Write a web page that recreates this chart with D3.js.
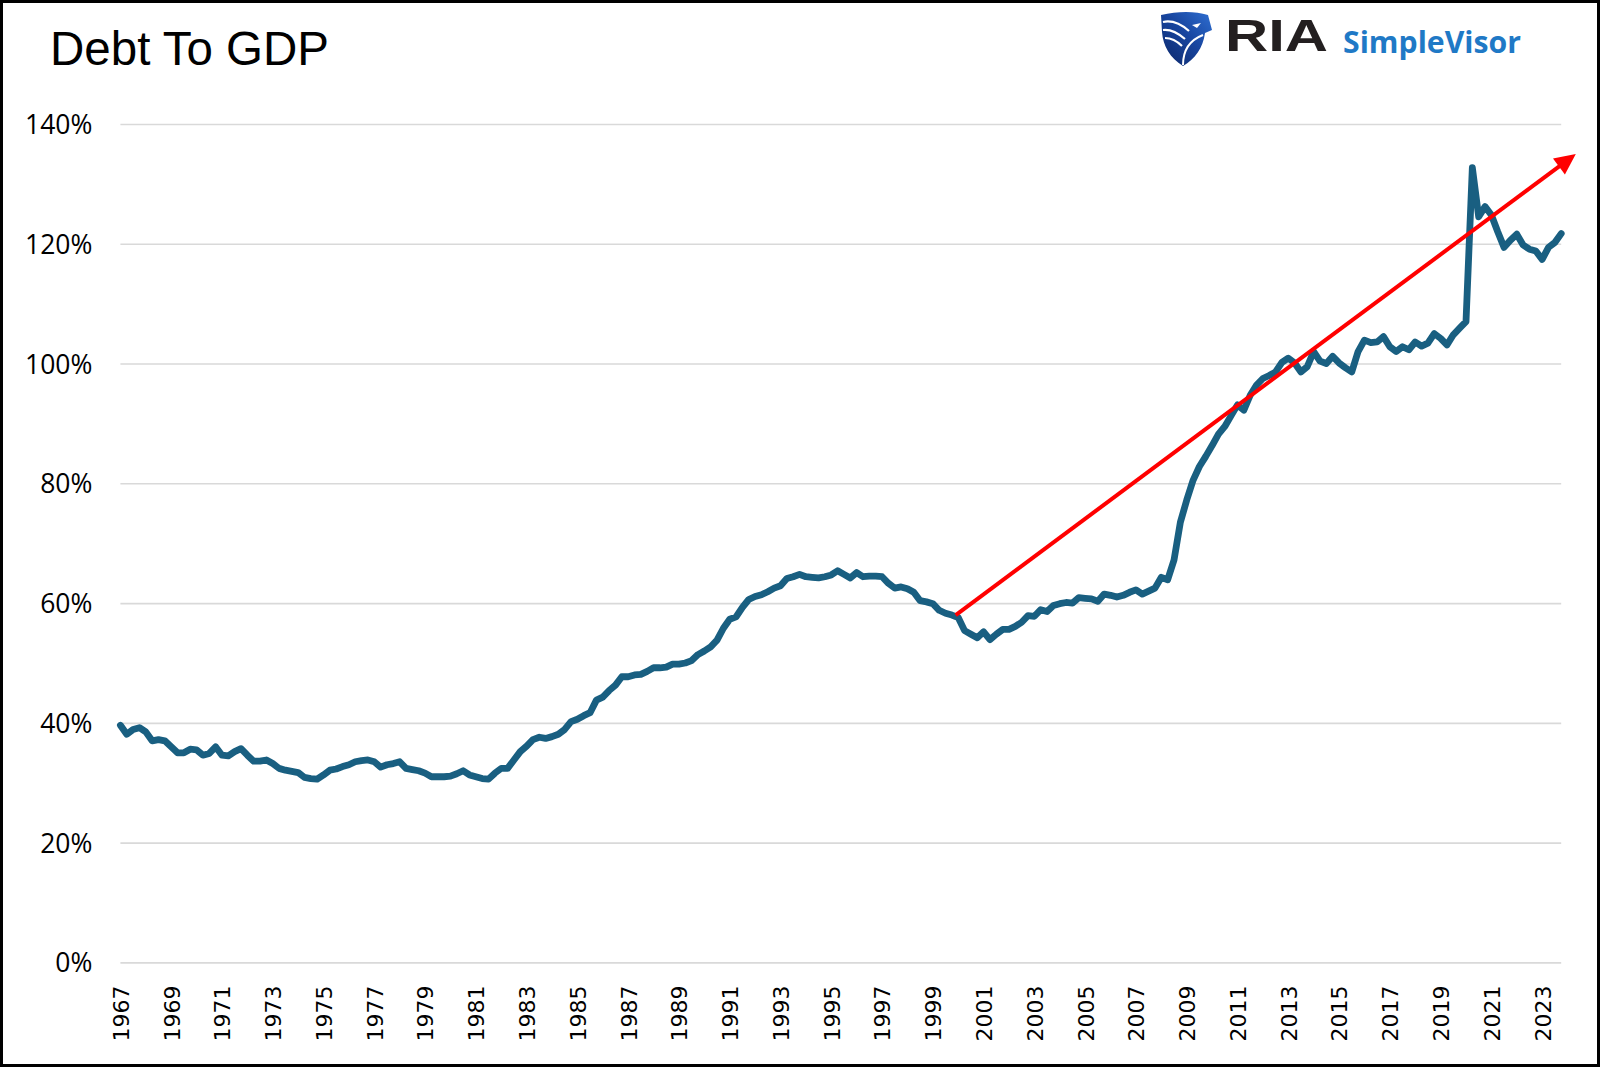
<!DOCTYPE html>
<html><head><meta charset="utf-8">
<script src="https://cdn.jsdelivr.net/npm/d3@7"></script>
<style>html,body{margin:0;padding:0;background:#fff;overflow:hidden;} svg{display:block;}</style>
</head><body>
<script>
// ---------------- DATA ----------------
const titleText = "Debt To GDP";
const firstYear = 1967;
// Quarterly federal debt to GDP (%), 1967Q1 .. 2023Q4
const debtToGdp = [
  39.6, 38.1, 38.9, 39.2, 38.5, 37.0, 37.2, 37.0, 36.0, 35.0,
  35.0, 35.6, 35.5, 34.6, 34.9, 36.0, 34.6, 34.5, 35.2, 35.7,
  34.6, 33.6, 33.6, 33.8, 33.2, 32.4, 32.1, 31.9, 31.7, 30.9,
  30.7, 30.6, 31.3, 32.1, 32.3, 32.7, 33.0, 33.5, 33.7, 33.8,
  33.5, 32.6, 33.0, 33.2, 33.5, 32.4, 32.2, 32.0, 31.6, 31.0,
  31.0, 31.0, 31.1, 31.5, 32.0, 31.3, 31.0, 30.7, 30.6, 31.6,
  32.4, 32.4, 33.8, 35.2, 36.1, 37.2, 37.6, 37.4, 37.7, 38.1,
  38.9, 40.2, 40.6, 41.2, 41.7, 43.8, 44.3, 45.4, 46.3, 47.7,
  47.7, 48.0, 48.1, 48.6, 49.2, 49.2, 49.3, 49.8, 49.8, 50.0,
  50.4, 51.4, 52.0, 52.7, 53.8, 55.8, 57.3, 57.7, 59.3, 60.6,
  61.1, 61.4, 61.9, 62.5, 62.9, 64.1, 64.4, 64.8, 64.4, 64.3,
  64.2, 64.4, 64.7, 65.4, 64.8, 64.2, 65.1, 64.4, 64.5, 64.5,
  64.4, 63.3, 62.5, 62.7, 62.4, 61.8, 60.4, 60.2, 59.9, 58.8,
  58.3, 58.0, 57.6, 55.4, 54.8, 54.2, 55.2, 53.9, 54.8, 55.6,
  55.6, 56.1, 56.8, 57.9, 57.8, 58.9, 58.6, 59.6, 59.9, 60.1,
  60.0, 60.9, 60.8, 60.7, 60.3, 61.5, 61.3, 61.0, 61.3, 61.8,
  62.2, 61.5, 62.0, 62.5, 64.3, 63.9, 67.2, 73.5, 77.2, 80.5,
  82.8, 84.5, 86.3, 88.2, 89.5, 91.3, 93.1, 92.2, 94.7, 96.4,
  97.5, 98.0, 98.6, 100.2, 100.9, 100.1, 98.6, 99.5, 102.0, 100.4,
  100.0, 101.2, 100.1, 99.3, 98.6, 102.0, 103.9, 103.5, 103.6, 104.5,
  102.8, 102.0, 102.8, 102.3, 103.6, 102.9, 103.4, 105.0, 104.2, 103.1,
  104.8, 105.9, 107.0, 132.7, 124.5, 126.2, 124.8, 122.0, 119.4, 120.6,
  121.6, 119.8, 119.1, 118.8, 117.4, 119.4, 120.2, 121.7
];
const categories = debtToGdp.map((d, i) => `${firstYear + Math.floor(i / 4)}Q${(i % 4) + 1}`);
const xTickLabels = ["1967","1969","1971","1973","1975","1977","1979","1981","1983","1985",
  "1987","1989","1991","1993","1995","1997","1999","2001","2003","2005",
  "2007","2009","2011","2013","2015","2017","2019","2021","2023"];
const yTickValues = [0, 20, 40, 60, 80, 100, 120, 140];
// Red trend arrow (category index, value)
const trendStart = { index: 131.6, value: 58.0 };
const trendEnd = { index: 229.3, value: 135.0 };
const logoWord = "RIA";
const logoSub = "SimpleVisor";

// ---------------- LAYOUT ----------------
const W = 1600, H = 1067;
const plot = { left: 120.4, right: 1561.2, top: 124, bottom: 962.4 };

const svg = d3.select("body").append("svg").attr("width", W).attr("height", H);
svg.append("rect").attr("x", 0).attr("y", 0).attr("width", W).attr("height", H).attr("fill", "#fff");

const x = d3.scaleLinear().domain([0, categories.length - 1]).range([plot.left, plot.right]);
const y = d3.scaleLinear().domain([0, 140]).range([plot.bottom, plot.top]);

// Y axis with gridlines
const yAxis = d3.axisLeft(y).tickValues(yTickValues).tickFormat(d => d + "%")
  .tickSize(-(plot.right - plot.left)).tickPadding(28);
const gy = svg.append("g").attr("transform", `translate(${plot.left},0)`).call(yAxis);
gy.select(".domain").remove();
gy.selectAll(".tick line").attr("stroke", "#d9d9d9").attr("stroke-width", 1.6);
gy.selectAll(".tick text").attr("fill", "#000").style("font-family", "'Open Sans', sans-serif")
  .style("font-size", "26.5px").attr("dy", "0.36em");

// X axis labels
const tickIdx = xTickLabels.map(l => categories.indexOf(l + "Q1"));
const xAxis = d3.axisBottom(x).tickValues(tickIdx)
  .tickFormat(i => categories[i].slice(0, 4)).tickSize(0);
const gx = svg.append("g").attr("transform", `translate(0,${plot.bottom})`).call(xAxis);
gx.select(".domain").remove();
gx.selectAll(".tick line").remove();
gx.selectAll(".tick text").attr("fill", "#000")
  .style("font-family", "'DejaVu Sans', sans-serif").style("font-size", "22px")
  .attr("transform", "rotate(-90)").attr("x", -23).attr("y", 0).attr("dy", "0.36em")
  .attr("text-anchor", "end");

// Data line
const line = d3.line().x((d, i) => x(i)).y(d => y(d));
svg.append("path").datum(debtToGdp).attr("d", line)
  .attr("fill", "none").attr("stroke", "#195f81").attr("stroke-width", 6.8)
  .attr("stroke-linejoin", "round").attr("stroke-linecap", "round");

// Trend arrow
const x0 = x(trendStart.index), y0 = y(trendStart.value);
const x1 = x(trendEnd.index), y1 = y(trendEnd.value);
const len = Math.hypot(x1 - x0, y1 - y0);
const ux = (x1 - x0) / len, uy = (y1 - y0) / len;
const headLen = 21, headHalf = 10;
const bx = x1 - ux * headLen, by = y1 - uy * headLen;
svg.append("line").attr("x1", x0).attr("y1", y0).attr("x2", bx + ux * 2).attr("y2", by + uy * 2)
  .attr("stroke", "#ff0000").attr("stroke-width", 4);
svg.append("path")
  .attr("d", `M${x1},${y1}L${bx - uy * headHalf},${by + ux * headHalf}L${bx + uy * headHalf},${by - ux * headHalf}Z`)
  .attr("fill", "#ff0000");

// Title
svg.append("text").attr("x", 50).attr("y", 65).text(titleText)
  .style("font-family", "'Liberation Sans', Arial, sans-serif").style("font-size", "47.5px").attr("fill", "#000");

// Logo
const defs = svg.append("defs");
const grad = defs.append("linearGradient").attr("id", "shieldGrad")
  .attr("x1", "0").attr("y1", "1").attr("x2", "1").attr("y2", "0");
grad.append("stop").attr("offset", "0").attr("stop-color", "#0b2566");
grad.append("stop").attr("offset", "0.55").attr("stop-color", "#1846a0");
grad.append("stop").attr("offset", "1").attr("stop-color", "#2f6fd2");
const logo = svg.append("g");
logo.append("path")
  .attr("d", "M1161,15 C1178,11 1195,11 1208,15 L1212,30 L1205,33 C1203,48 1195,59 1183,66 C1170,58 1163,46 1162,32 Z")
  .attr("fill", "url(#shieldGrad)");
logo.append("path").attr("d", "M1163,22 C1172,20 1181,24 1189,31").attr("stroke", "#fff").attr("stroke-width", 2.2).attr("fill", "none");
logo.append("path").attr("d", "M1163,30 C1171,29 1178,33 1185,39").attr("stroke", "#fff").attr("stroke-width", 2.2).attr("fill", "none");
logo.append("path").attr("d", "M1165,38 C1172,38 1177,41 1182,46").attr("stroke", "#fff").attr("stroke-width", 2.2).attr("fill", "none");
logo.append("path").attr("d", "M1183,65 C1183,50 1190,40 1203,35").attr("stroke", "#fff").attr("stroke-width", 2).attr("fill", "none");
logo.append("path").attr("d", "M1192,25 L1201,23 L1197,28 Z").attr("fill", "#fff");
logo.append("text").attr("x", 1225).attr("y", 51).text(logoWord)
  .style("font-family", "'Liberation Sans', Arial, sans-serif").style("font-weight", "700")
  .style("font-size", "45px").attr("fill", "#231f20")
  .attr("textLength", 103).attr("lengthAdjust", "spacingAndGlyphs");
logo.append("text").attr("x", 1343).attr("y", 53).text(logoSub)
  .style("font-family", "'Open Sans', sans-serif").style("font-weight", "700")
  .style("font-size", "31px").attr("fill", "#1f79c6")
  .attr("textLength", 178).attr("lengthAdjust", "spacingAndGlyphs");

// Frame border
svg.append("rect").attr("x", 1.5).attr("y", 1.5).attr("width", W - 3).attr("height", H - 3)
  .attr("fill", "none").attr("stroke", "#000").attr("stroke-width", 3);
</script>
</body></html>
